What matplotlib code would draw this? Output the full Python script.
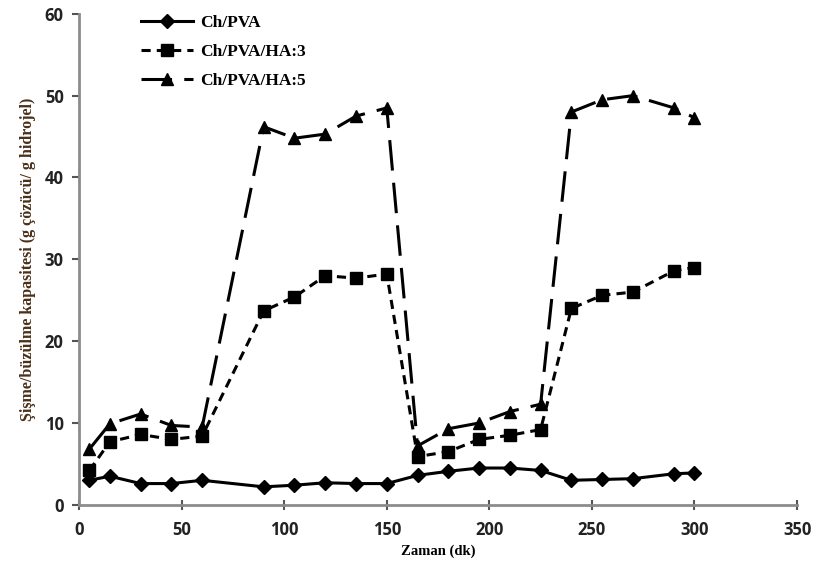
import matplotlib
matplotlib.use("Agg")
import matplotlib.pyplot as plt

time_min = [5, 15, 30, 45, 60, 90, 105, 120, 135, 150, 165, 180, 195, 210, 225, 240, 255, 270, 290, 300]
ch_pva = [3.0, 3.5, 2.6, 2.6, 3.0, 2.2, 2.4, 2.7, 2.6, 2.6, 3.6, 4.1, 4.5, 4.5, 4.2, 3.0, 3.1, 3.2, 3.8, 3.9]
ch_pva_ha3 = [4.2, 7.7, 8.6, 8.0, 8.4, 23.7, 25.4, 28.0, 27.7, 28.2, 5.9, 6.5, 8.0, 8.5, 9.2, 24.0, 25.6, 26.0, 28.6, 29.0]
ch_pva_ha5 = [6.8, 9.9, 11.1, 9.7, 9.5, 46.2, 44.8, 45.3, 47.5, 48.5, 7.2, 9.3, 10.0, 11.4, 12.3, 48.0, 49.5, 50.0, 48.5, 47.3]
labels = ["Ch/PVA", "Ch/PVA/HA:3", "Ch/PVA/HA:5"]
x_ticks = [0, 50, 100, 150, 200, 250, 300, 350]
y_ticks = [0, 10, 20, 30, 40, 50, 60]

fig = plt.figure(figsize=(8.15, 5.75), dpi=100)
ax = fig.add_axes([0.097, 0.122, 0.881, 0.854])

serif = ["Liberation Serif", "DejaVu Serif"]
ax.plot(time_min, ch_pva, color="black", lw=2.2, marker="D", ms=7, label=labels[0])
ax.plot(time_min, ch_pva_ha3, color="black", lw=2.2, ls=(0, (3, 2)), marker="s", ms=9, label=labels[1])
ax.plot(time_min, ch_pva_ha5, color="black", lw=2.2, ls=(0, (10, 4)), marker="^", ms=9, label=labels[2])

ax.set_xlim(0, 350)
ax.set_ylim(0, 60)
ax.set_xticks(x_ticks)
ax.set_yticks(y_ticks)
for s in ["top", "right"]:
    ax.spines[s].set_visible(False)
for s in ["left", "bottom"]:
    ax.spines[s].set_color("#8c8c8c")
    ax.spines[s].set_linewidth(2)
ax.tick_params(axis="x", direction="inout", length=7, width=1.5, color="#555555", pad=8)
ax.tick_params(axis="y", direction="out", length=5, width=1.5, color="#555555", pad=6)
for lab in ax.get_xticklabels() + ax.get_yticklabels():
    lab.set_fontfamily(["Open Sans", "DejaVu Sans"])
    lab.set_fontweight("bold")
    lab.set_fontsize(12)
    lab.set_color("#222222")

ax.set_xlabel("Zaman (dk)", fontfamily=serif, fontweight="bold", fontsize=10.5, labelpad=4)
ax.set_ylabel("Şişme/büzülme kapasitesi (g çözücü/ g hidrojel)", fontfamily=serif,
              fontweight="bold", fontsize=11.5, color="#4a3018", labelpad=6)

leg = ax.legend(loc="upper left", bbox_to_anchor=(0.065, 1.03), frameon=False,
                prop={"family": serif, "weight": "bold", "size": 12.5},
                handlelength=3.0, handletextpad=0.4, labelspacing=0.75)

fig.savefig("out.png", dpi=100)
